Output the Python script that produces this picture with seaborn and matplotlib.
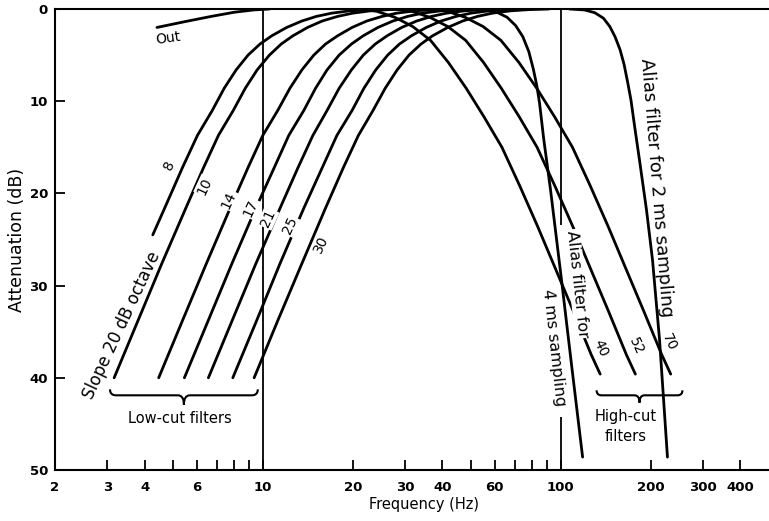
import matplotlib
matplotlib.use("Agg")
import matplotlib.pyplot as plt
import seaborn as sns
import pandas as pd
from matplotlib.path import Path
from matplotlib.patches import PathPatch
from matplotlib.transforms import IdentityTransform
from matplotlib.ticker import NullLocator

# ---------------- data ----------------
# Low-cut filters: frequency (Hz) at which each curve reaches the attenuation levels (dB)
LOWCUT_DB = [40.0, 33.8, 27.6, 21.6, 17.2, 13.7, 11.0, 8.6, 6.6, 5.0, 3.8, 2.9, 2.0, 1.3,
             0.8, 0.45, 0.2, 0.07, 0]
LC10 = [3.16, 3.80, 4.57, 5.50, 6.31, 7.08, 7.94, 8.71, 9.55, 10.5, 11.5, 12.6, 14.1, 15.8,
        17.8, 20.0, 22.9, 26.3, 30.9]
LC14 = [4.46, 5.36, 6.45, 7.75, 8.90, 9.98, 11.2, 12.3, 13.5, 14.8, 16.2, 17.8, 19.9, 22.3,
        25.1, 28.1, 32.3, 37.1, 43.6]
LC17 = [5.44, 6.54, 7.86, 9.45, 10.9, 12.2, 13.7, 15.0, 16.4, 18.0, 19.8, 21.7, 24.3, 27.3,
        30.6, 34.3, 39.4, 45.2, 53.2]
LC21 = [6.55, 7.87, 9.46, 11.4, 13.1, 14.7, 16.4, 18.0, 19.8, 21.7, 23.8, 26.1, 29.2, 32.8,
        36.8, 41.3, 47.4, 54.5, 64.0]
LC25 = [7.91, 9.51, 11.4, 13.7, 15.8, 17.7, 19.9, 21.8, 23.9, 26.2, 28.7, 31.5, 35.3, 39.6,
        44.5, 49.9, 57.3, 65.8, 77.3]
LC30 = [9.33, 11.2, 13.5, 16.2, 18.6, 20.9, 23.4, 25.7, 28.2, 30.9, 33.9, 37.1, 41.7, 46.8,
        52.5, 58.9, 67.6, 77.6, 91.2]
LC8_DB = [24.5, 21.6, 17.2, 13.7, 11.0, 8.6, 6.6, 5.0, 3.8, 2.9, 2.0, 1.3, 0.8, 0.45, 0.2,
          0.07, 0]
LC8 = [4.26, 4.67, 5.36, 6.02, 6.75, 7.40, 8.12, 8.90, 9.76, 10.7, 12.0, 13.5, 15.1, 17.0,
       19.5, 22.4, 26.3]

# "Out" (filter out)
OUT_F = [4.40, 5.50, 6.70, 8.00, 9.30, 10.5]
OUT_DB = [2.0, 1.35, 0.8, 0.35, 0.1, 0]

# High-cut filters
HIGHCUT_DB = [0, 0.25, 0.9, 1.9, 3.4, 5.8, 8.6, 11.7, 15.0, 19.2, 23.6, 28.2, 32.8, 37.5, 39.6]
HC40 = [21.0, 24.1, 27.7, 31.8, 36.5, 41.9, 48.1, 55.2, 63.4, 72.8, 83.6, 96.0, 110.2,
        126.5, 135.5]
HC52 = [27.6, 31.6, 36.3, 41.7, 47.9, 55.0, 63.1, 72.5, 83.2, 95.5, 109.7, 125.9, 144.6,
        166.0, 177.9]
HC70 = [36.2, 41.6, 47.7, 54.8, 62.9, 72.3, 83.0, 95.3, 109.4, 125.6, 144.2, 165.5, 190.0,
        218.2, 233.8]

# Alias filters
ALIAS4_F = [47.0, 55.0, 61.0, 66.0, 70.5, 74.5, 78.0, 80.8, 83.0, 84.8, 87.5, 92.3, 100.5,
            108.6, 118.3]
ALIAS4_DB = [0, 0.1, 0.35, 0.9, 1.8, 3.0, 4.6, 6.5, 8.3, 10.2, 14.0, 19.6, 29.4, 38.6, 48.6]
ALIAS2_F = [106.9, 120.0, 130.0, 139.0, 146.0, 152.0, 158.0, 163.0, 167.5, 172.0, 177.0,
            183.7, 193.9, 203.1, 214.5, 228.0]
ALIAS2_DB = [0, 0.1, 0.4, 1.0, 1.9, 3.0, 4.4, 6.0, 7.9, 9.9, 12.8, 16.4, 21.8, 27.2, 35.9,
             48.6]

LOWCUT_NAMES = ["8", "10", "14", "17", "21", "25", "30"]
HIGHCUT_NAMES = ["40", "52", "70"]

TICK_F = [2, 3, 4, 5, 6, 7, 8, 9, 10, 20, 30, 40, 50, 60, 70, 80, 90, 100, 200, 300, 400]
TICK_LABELS = ["2", "3", "4", "", "6", "", "", "", "10", "20", "30", "40", "", "60",
               "", "", "", "100", "200", "300", "400"]
Y_TICKS = [0, 10, 20, 30, 40, 50]

# ---------------- tidy tables ----------------
filter_curves = [
    ("Out", OUT_F, OUT_DB),
    ("8", LC8, LC8_DB), ("10", LC10, LOWCUT_DB), ("14", LC14, LOWCUT_DB),
    ("17", LC17, LOWCUT_DB), ("21", LC21, LOWCUT_DB), ("25", LC25, LOWCUT_DB),
    ("30", LC30, LOWCUT_DB),
    ("h40", HC40, HIGHCUT_DB), ("h52", HC52, HIGHCUT_DB), ("h70", HC70, HIGHCUT_DB),
]
alias_curves = [("a4", ALIAS4_F, ALIAS4_DB), ("a2", ALIAS2_F, ALIAS2_DB)]


def to_frame(curves):
    rows = []
    for name, fs, dbs in curves:
        for f, d in zip(fs, dbs):
            rows.append((name, f, d))
    return pd.DataFrame(rows, columns=["curve", "freq", "atten"])


df_filters = to_frame(filter_curves)
df_alias = to_frame(alias_curves)

# ---------------- figure ----------------
sns.set_theme(style="white")
plt.rcParams["font.family"] = ["DejaVu Sans"]
plt.rcParams["text.color"] = "black"
plt.rcParams["axes.labelcolor"] = "black"
plt.rcParams["xtick.color"] = "black"
plt.rcParams["ytick.color"] = "black"

fig = plt.figure(figsize=(7.69, 5.21), dpi=100)
ax = fig.add_axes([0.0715, 0.0979, 0.9285, 0.8848])
ax.set_xscale("log")

LW = 2.0
sns.lineplot(data=df_filters, x="freq", y="atten", units="curve", estimator=None,
             sort=False, color="black", linewidth=LW, ax=ax, legend=False, zorder=3)
sns.lineplot(data=df_alias, x="freq", y="atten", units="curve", estimator=None,
             sort=False, color="black", linewidth=LW, ax=ax, legend=False, zorder=7)

# reference verticals at 10 Hz and 100 Hz
ax.vlines(10, 0, 50, color="black", lw=1.3, zorder=2)
ax.vlines(100, 0, 23.4, color="black", lw=1.3, zorder=2)
ax.vlines(100, 44.3, 50, color="black", lw=1.3, zorder=2)

ax.set_xlim(2, 500)
ax.set_ylim(50, 0)

ax.set_xticks(TICK_F, labels=TICK_LABELS, fontweight="bold", fontsize=9.5)
ax.xaxis.set_minor_locator(NullLocator())
ax.set_yticks(Y_TICKS, labels=[str(v) for v in Y_TICKS], fontweight="bold", fontsize=9.5)
ax.tick_params(axis="both", which="major", direction="in", length=7.5, width=1.3,
               bottom=True, left=True, top=False, right=False)
ax.tick_params(axis="x", pad=8)
ax.tick_params(axis="y", pad=5)

for s in ["left", "bottom", "top"]:
    ax.spines[s].set_visible(True)
    ax.spines[s].set_color("black")
    ax.spines[s].set_linewidth(1.5)
ax.spines["right"].set_visible(False)

ax.set_xlabel("Frequency (Hz)", fontsize=10.5)
ax.set_ylabel("Attenuation (dB)", fontsize=12.5)
ax.xaxis.set_label_coords(0.517, -0.058)
ax.yaxis.set_label_coords(-0.041, 0.5)

# ---------------- annotations ----------------
box = dict(boxstyle="square,pad=0.08", fc="white", ec="none")
low_pos = [(4.83, 16.9), (6.37, 19.2), (7.67, 20.7), (9.09, 21.6),
           (10.4, 22.7), (12.3, 23.5), (15.7, 25.5)]
for name, (f, d) in zip(LOWCUT_NAMES, low_pos):
    ax.text(f, d, name, rotation=65, rotation_mode="anchor", ha="center", va="center",
            fontsize=10, bbox=box, zorder=5)
high_pos = [(135.5, 36.8), (179.0, 36.6), (231.0, 36.1)]
for name, (f, d) in zip(HIGHCUT_NAMES, high_pos):
    ax.text(f, d, name, rotation=-65, rotation_mode="anchor", ha="center", va="center",
            fontsize=10, bbox=box, zorder=5)

ax.text(4.79, 3.2, "Out", rotation=8, rotation_mode="anchor", ha="center", va="center",
        fontsize=10, zorder=5)
ax.text(3.36, 34.3, "Slope 20 dB octave", rotation=65, rotation_mode="anchor",
        ha="center", va="center", fontsize=12, zorder=5)
ax.text(209, 19.4, "Alias filter for 2 ms sampling", rotation=-85.4, rotation_mode="anchor",
        ha="center", va="center", fontsize=13, zorder=5)
ax.text(113.8, 29.8, "Alias filter for", rotation=-83.8, rotation_mode="anchor",
        ha="center", va="center", fontsize=11.5, zorder=5,
        bbox=dict(boxstyle="square,pad=0.05", fc="white", ec="none"))
ax.text(94.5, 36.7, "4 ms sampling", rotation=-83.7, rotation_mode="anchor",
        ha="center", va="center", fontsize=11.5, zorder=5)
ax.text(5.25, 44.4, "Low-cut filters", ha="center", va="center", fontsize=10.5, zorder=5)
ax.text(165, 45.3, "High-cut\nfilters", ha="center", va="center", fontsize=10.5,
        linespacing=1.45, zorder=5)


def brace(f0, f1, y, tip, curl):
    x0, yb = ax.transData.transform((f0, y))
    x1, _ = ax.transData.transform((f1, y))
    _, yt = ax.transData.transform((f0, tip))
    xm = 0.5 * (x0 + x1)
    c = curl
    verts = [(x0, yb + c), (x0, yb), (x0 + c, yb),
             (xm - c, yb), (xm, yb), (xm, yt),
             (xm, yb), (xm + c, yb),
             (x1 - c, yb), (x1, yb), (x1, yb + c)]
    codes = [Path.MOVETO, Path.CURVE3, Path.CURVE3,
             Path.LINETO, Path.CURVE3, Path.CURVE3,
             Path.CURVE3, Path.CURVE3,
             Path.LINETO, Path.CURVE3, Path.CURVE3]
    patch = PathPatch(Path(verts, codes), transform=IdentityTransform(), fc="none",
                      ec="black", lw=1.5, zorder=5)
    fig.add_artist(patch)


brace(3.06, 9.6, 41.9, 42.9, 6)
brace(131.8, 256, 41.9, 42.7, 5)

fig.savefig("out.png", dpi=100)
